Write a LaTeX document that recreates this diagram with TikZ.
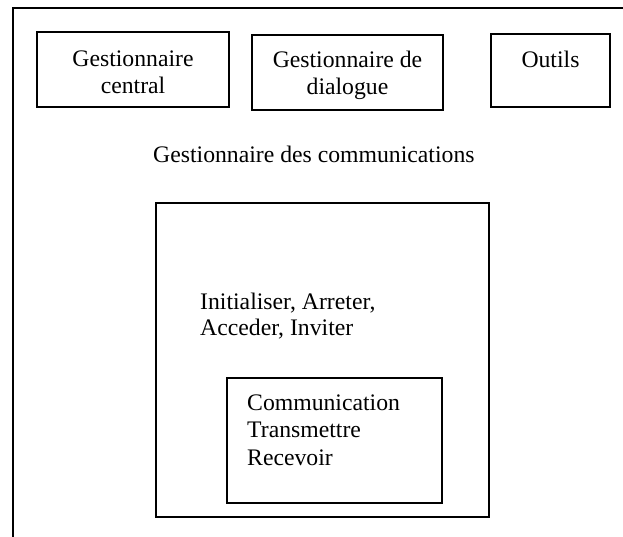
\documentclass[tikz,border=0pt]{standalone}
\usepackage{fontspec}
\setmainfont{Liberation Serif}
\begin{document}
\begin{tikzpicture}[x=1bp,y=-1bp,
  box/.style={draw,line width=1.1bp,inner sep=0pt},
  lbl/.style={inner sep=0pt,font=\fontsize{23.8}{27.5}\selectfont},
  frame/.style={line width=1.3bp}]
\useasboundingbox (0,0) rectangle (623,537);
% outer frame (open on right and bottom)
\coordinate (ftr) at (623,8);
\coordinate (ftl) at (13,8);
\coordinate (fbl) at (13,537);
\draw[frame] (ftr) -- (ftl) -- (fbl);
% top row of managers
\node[box,minimum width=192bp,minimum height=75bp] (central) at (133,69.5) {};
\node[box,minimum width=191bp,minimum height=75bp] (dialogue) at (347.5,72.5) {};
\node[box,minimum width=119bp,minimum height=73bp] (outils) at (550.5,70.5) {};
\node[lbl,anchor=base] (tcentral1) at (133,67) {Gestionnaire};
\node[lbl,anchor=base] (tcentral2) at (133,94) {central};
\node[lbl,anchor=base] (tdialogue1) at (347.5,68) {Gestionnaire de};
\node[lbl,anchor=base] (tdialogue2) at (347.5,95) {dialogue};
\node[lbl,anchor=base] (toutils) at (550.5,68) {Outils};
% communications manager
\node[lbl,anchor=base west] (tcomm) at (153,163) {Gestionnaire des communications};
\node[box,minimum width=333bp,minimum height=314bp] (gcomm) at (322.5,360) {};
% multi-line labels: the base anchor sits on the last line
\node[lbl,anchor=base west,align=left,font=\fontsize{23.8}{26}\selectfont] (tops) at (200,335) {Initialiser, Arreter,\\Acceder, Inviter};
\node[box,minimum width=215bp,minimum height=125bp] (inner) at (334.5,440.5) {};
\node[lbl,anchor=base west,align=left] (tinner) at (247,465) {Communication\\Transmettre\\Recevoir};
\end{tikzpicture}
\end{document}
